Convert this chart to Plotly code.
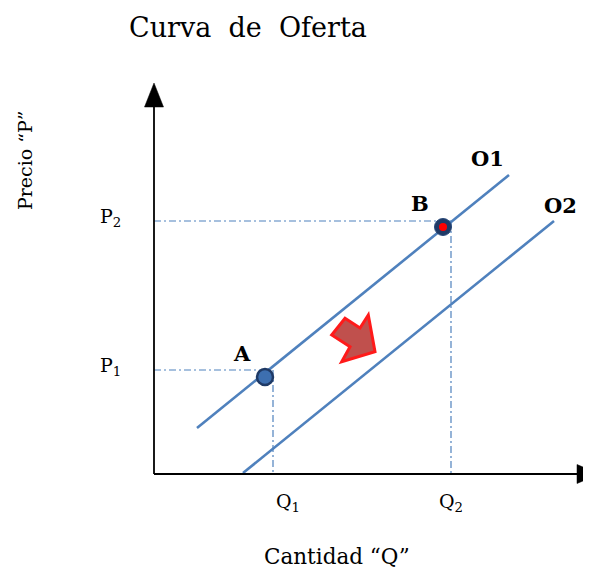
import plotly.graph_objects as go

# ---- data (arbitrary economic units) ----
price_levels = [10.4, 25.3]          # P1, P2
quantity_levels = [11.9, 29.7]       # Q1, Q2
price_labels = ["P<sub>1</sub>", "P<sub>2</sub>"]
quantity_labels = ["Q<sub>1</sub>", "Q<sub>2</sub>"]

o1_q = [4.3, 35.5]
o1_p = [4.6, 29.9]
o2_q = [8.9, 40.0]
o2_p = [0.1, 25.3]

point_names = ["A", "B"]
point_q = [11.1, 28.9]
point_p = [9.7, 24.7]

curve_names = ["O1", "O2"]

BLUE = "#4f81bd"
NAVY = "#1f3a66"
FONT = "DejaVu Serif"

W, H = 583, 562   # page body has an 8px margin in the 591x570 window
OFF = 8


def px(x):
    return (x - OFF) / W


def py(y):
    return 1 - (y - OFF) / H


fig = go.Figure()

# supply curves
fig.add_trace(go.Scatter(x=o1_q, y=o1_p, mode="lines",
                         line=dict(color=BLUE, width=2.6), hoverinfo="skip"))
fig.add_trace(go.Scatter(x=o2_q, y=o2_p, mode="lines",
                         line=dict(color=BLUE, width=2.6), hoverinfo="skip"))

# guide lines (dash-dot)
for p, q in zip(price_levels, quantity_levels):
    fig.add_trace(go.Scatter(x=[0, q], y=[p, p], mode="lines",
                             line=dict(color=BLUE, width=1.2, dash="7px,3px,2px,3px"),
                             hoverinfo="skip"))
    fig.add_trace(go.Scatter(x=[q, q], y=[p, 0], mode="lines",
                             line=dict(color=BLUE, width=1.2, dash="7px,3px,2px,3px"),
                             hoverinfo="skip"))

# points A, B
fig.add_trace(go.Scatter(x=[point_q[0]], y=[point_p[0]], mode="markers",
                         marker=dict(size=16, color="#3d6fb0",
                                     line=dict(color=NAVY, width=2.5)),
                         hoverinfo="skip"))
fig.add_trace(go.Scatter(x=[point_q[1]], y=[point_p[1]], mode="markers",
                         marker=dict(size=17, color=NAVY,
                                     line=dict(color="#2a4a7a", width=1)),
                         hoverinfo="skip"))
fig.add_trace(go.Scatter(x=[point_q[1]], y=[point_p[1]], mode="markers",
                         marker=dict(size=8, color="#ff0000", line=dict(width=0)),
                         hoverinfo="skip"))

shapes = []
# axes with arrowheads
shapes.append(dict(type="line", x0=0, y0=0, x1=0, y1=36.9,
                   line=dict(color="black", width=1.8)))
shapes.append(dict(type="line", x0=0, y0=0, x1=42.4, y1=0,
                   line=dict(color="black", width=1.8)))
shapes.append(dict(type="path", path="M -0.95 36.7 L 0 39.1 L 0.95 36.7 Z",
                   fillcolor="black", line=dict(color="black", width=0.5)))
shapes.append(dict(type="path", path="M 42.3 0.95 L 43.6 0.4 L 43.6 -0.4 L 42.3 -0.95 Z",
                   fillcolor="black", line=dict(color="black", width=0.5)))
# red shift arrow
shapes.append(dict(type="path",
                   path="M 17.77 13.9 L 19.1 15.57 L 20.6 14.6 L 21.43 15.9 "
                        "L 22.1 12.23 L 18.77 11.23 L 19.6 12.73 Z",
                   fillcolor="#c0504d", line=dict(color="#ff1a1a", width=3)))

annotations = []
label_font = dict(family=FONT, size=19, color="black")
for p, t in zip(price_levels, price_labels):
    annotations.append(dict(x=-3.1, y=p + 0.35, text=t, showarrow=False,
                            xanchor="right", yanchor="middle", font=label_font))
q_offsets = [1.5, 0.0]
for q, t, off in zip(quantity_levels, quantity_labels, q_offsets):
    annotations.append(dict(x=q + off, y=-2.8, text=t, showarrow=False,
                            xanchor="center", yanchor="middle", font=label_font))

bold_font = dict(family=FONT, size=21, color="black")
annotations.append(dict(x=point_q[0] - 2.3, y=point_p[0] + 2.4, text="<b>A</b>",
                        showarrow=False, font=bold_font))
annotations.append(dict(x=point_q[1] - 2.3, y=point_p[1] + 2.4, text="<b>B</b>",
                        showarrow=False, font=bold_font))
annotations.append(dict(x=o1_q[1] - 2.2, y=o1_p[1] + 1.7, text="<b>" + curve_names[0] + "</b>",
                        showarrow=False, font=bold_font))
annotations.append(dict(x=o2_q[1] + 0.6, y=o2_p[1] + 1.6, text="<b>" + curve_names[1] + "</b>",
                        showarrow=False, font=bold_font))

# title and axis titles
annotations.append(dict(x=px(248), y=py(27), xref="paper", yref="paper",
                        xanchor="center", yanchor="middle",
                        text="Curva&nbsp;&nbsp;de&nbsp;&nbsp;Oferta", showarrow=False,
                        font=dict(family=FONT, size=27, color="black")))
annotations.append(dict(x=px(337), y=py(556), xref="paper", yref="paper",
                        xanchor="center", yanchor="middle",
                        text="Cantidad “Q”", showarrow=False,
                        font=dict(family=FONT, size=21.5, color="black")))
annotations.append(dict(x=px(25), y=py(160), xref="paper", yref="paper",
                        xanchor="center", yanchor="middle",
                        text="Precio “P”", showarrow=False, textangle=-90,
                        font=dict(family=FONT, size=19, color="black")))

fig.update_layout(
    width=W, height=H,
    margin=dict(l=0, r=0, t=0, b=0),
    paper_bgcolor="white", plot_bgcolor="white",
    showlegend=False,
    xaxis=dict(range=[-14.6, 43.7], visible=False, fixedrange=True),
    yaxis=dict(range=[-9.6, 46.6], visible=False, fixedrange=True),
    shapes=shapes, annotations=annotations,
)

fig.write_html("out.html")
